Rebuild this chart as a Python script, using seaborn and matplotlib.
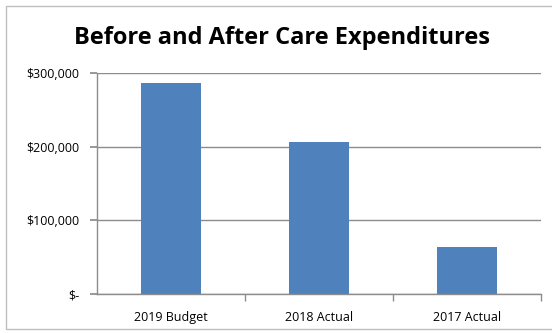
import matplotlib
matplotlib.use("Agg")
import matplotlib.pyplot as plt
import seaborn as sns
import pandas as pd
from matplotlib.ticker import FuncFormatter, FixedLocator
from matplotlib.patches import Rectangle

categories = ["2019 Budget", "2018 Actual", "2017 Actual"]
values = [286000, 206000, 64000]
title = "Before and After Care Expenditures"
yticks = [0, 100000, 200000, 300000]

sns.set_theme(style="white")
plt.rcParams['font.family'] = ['Open Sans', 'DejaVu Sans']

df = pd.DataFrame({"cat": categories, "val": values})

fig = plt.figure(figsize=(5.52, 3.33), dpi=100)
ax = fig.add_axes([97/552, 1-294/333, (541-97)/552, (294-73)/333])

sns.barplot(data=df, x="cat", y="val", ax=ax, color="#4F81BD", width=0.4,
            saturation=1, edgecolor="none")

ax.set_ylim(0, 300000)
ax.set_xlim(-0.5, 2.5)
ax.set_yticks(yticks)
ax.yaxis.set_major_formatter(FuncFormatter(lambda v, p: "$-" if v == 0 else f"${v:,.0f}"))
ax.yaxis.grid(True, color="#8C8C8C", linewidth=1)
ax.set_axisbelow(True)
ax.set_xlabel("")
ax.set_ylabel("")
for s in ["top", "right"]:
    ax.spines[s].set_visible(False)
for s in ["left", "bottom"]:
    ax.spines[s].set_color("#8C8C8C")
    ax.spines[s].set_linewidth(1)

ax.tick_params(axis="y", which="major", left=True, length=5, color="#8C8C8C",
               labelsize=9, pad=8, labelcolor="black")
ax.tick_params(axis="x", which="major", bottom=False, labelsize=9, pad=6, labelcolor="black")
ax.xaxis.set_minor_locator(FixedLocator([0.5, 1.5, 2.5]))
ax.tick_params(axis="x", which="minor", bottom=True, length=5, color="#8C8C8C", width=1)

fig.text(282/552, 1-38/333, title, ha="center", va="center", fontsize=17,
         fontweight="bold", color="black")

fig.patches.append(Rectangle((6/552, 4/333), 1.0, 1-10/333, transform=fig.transFigure,
                             fill=False, edgecolor="#BFBFBF", linewidth=1))

fig.savefig("out.png", dpi=100)
